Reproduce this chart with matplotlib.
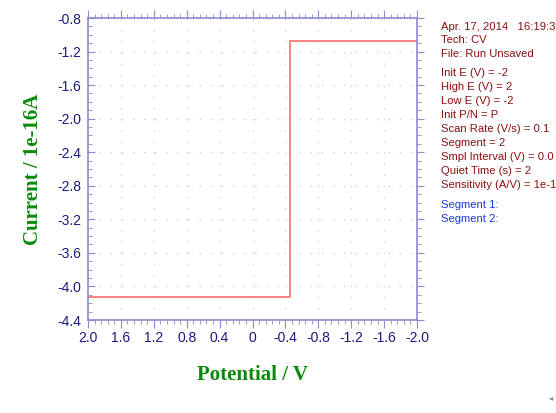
import matplotlib
matplotlib.use("Agg")
import matplotlib.pyplot as plt
from matplotlib.ticker import MultipleLocator, FixedLocator

# Data
potential = [2.0, -0.45, -0.45, -2.0]
current = [-4.12, -4.12, -1.07, -1.07]
xticks = [2.0, 1.6, 1.2, 0.8, 0.4, 0.0, -0.4, -0.8, -1.2, -1.6, -2.0]
xticklabels = ["2.0", "1.6", "1.2", "0.8", "0.4", "0", "-0.4", "-0.8", "-1.2", "-1.6", "-2.0"]
yticks = [-0.8, -1.2, -1.6, -2.0, -2.4, -2.8, -3.2, -3.6, -4.0, -4.4]
yticklabels = ["-0.8", "-1.2", "-1.6", "-2.0", "-2.4", "-2.8", "-3.2", "-3.6", "-4.0", "-4.4"]
info_lines1 = ["Apr. 17, 2014   16:19:3", "Tech: CV", "File: Run Unsaved"]
info_lines2 = ["Init E (V) = -2", "High E (V) = 2", "Low E (V) = -2", "Init P/N = P",
               "Scan Rate (V/s) = 0.1", "Segment = 2", "Smpl Interval (V) = 0.0",
               "Quiet Time (s) = 2", "Sensitivity (A/V) = 1e-1"]
info_lines3 = ["Segment 1:", "Segment 2:"]

W, H = 556, 413
fig = plt.figure(figsize=(W/100, H/100), dpi=100)
ax = fig.add_axes([88/W, 1-320/H, (417-88)/W, (320-18)/H])

axis_col = "#8c8cd0"
lab_col = "#1a1a80"

ax.plot(potential, current, color="#ff8080", lw=1.4)
ax.set_xlim(2.0, -2.0)
ax.set_ylim(-4.4, -0.8)

ax.xaxis.set_major_locator(FixedLocator(xticks))
ax.set_xticklabels(xticklabels)
ax.yaxis.set_major_locator(FixedLocator(yticks))
ax.set_yticklabels(yticklabels)
ax.xaxis.set_minor_locator(MultipleLocator(0.08))
ax.yaxis.set_minor_locator(MultipleLocator(0.1))

for s in ax.spines.values():
    s.set_color(axis_col)
    s.set_linewidth(1.2)

ax.tick_params(axis="both", which="both", colors=axis_col, labelcolor=lab_col, labelsize=10)
ax.tick_params(axis="x", which="major", direction="out", length=6, top=True, bottom=True, pad=2)
ax.tick_params(axis="x", which="minor", direction="out", length=3, top=True, bottom=True)
ax.tick_params(axis="y", which="major", direction="in", length=5, left=True, right=True, pad=5)
ax.tick_params(axis="y", which="minor", direction="in", length=3, left=True, right=True)
for t in ax.yaxis.get_majorticklines()[1::2] + ax.yaxis.get_minorticklines()[1::2]:
    t.set_marker(matplotlib.lines.TICKRIGHT)

for lab in ax.get_xticklabels() + ax.get_yticklabels():
    lab.set_family("Liberation Sans")

ax.grid(True, which="major", color="#d4d4b8", linestyle=(0, (1, 7)), linewidth=1.0)

ax.set_xlabel("Potential / V", family="Liberation Serif", fontweight="bold",
              fontsize=15, color="#0a8a0a", labelpad=14)
ax.set_ylabel("Current / 1e-16A", family="Liberation Serif", fontweight="bold",
              fontsize=15, color="#0a8a0a", labelpad=10)

red = "#8b1010"
blue = "#1a3ae0"
fs = 8.1
y = 27
for s in info_lines1:
    fig.text(441/W, 1-y/H, s, color=red, fontsize=fs, family="Liberation Sans", va="center")
    y += 13.3
y = 73
for s in info_lines2:
    fig.text(441/W, 1-y/H, s, color=red, fontsize=fs, family="Liberation Sans", va="center")
    y += 14
y = 205
for s in info_lines3:
    fig.text(441/W, 1-y/H, s, color=blue, fontsize=fs, family="Liberation Sans", va="center")
    y += 14

fig.text(551/W, 1-398/H, "\u25c2", color="#888888", fontsize=6, family="DejaVu Sans",
         ha="center", va="center")

fig.savefig("out.png", dpi=100)
